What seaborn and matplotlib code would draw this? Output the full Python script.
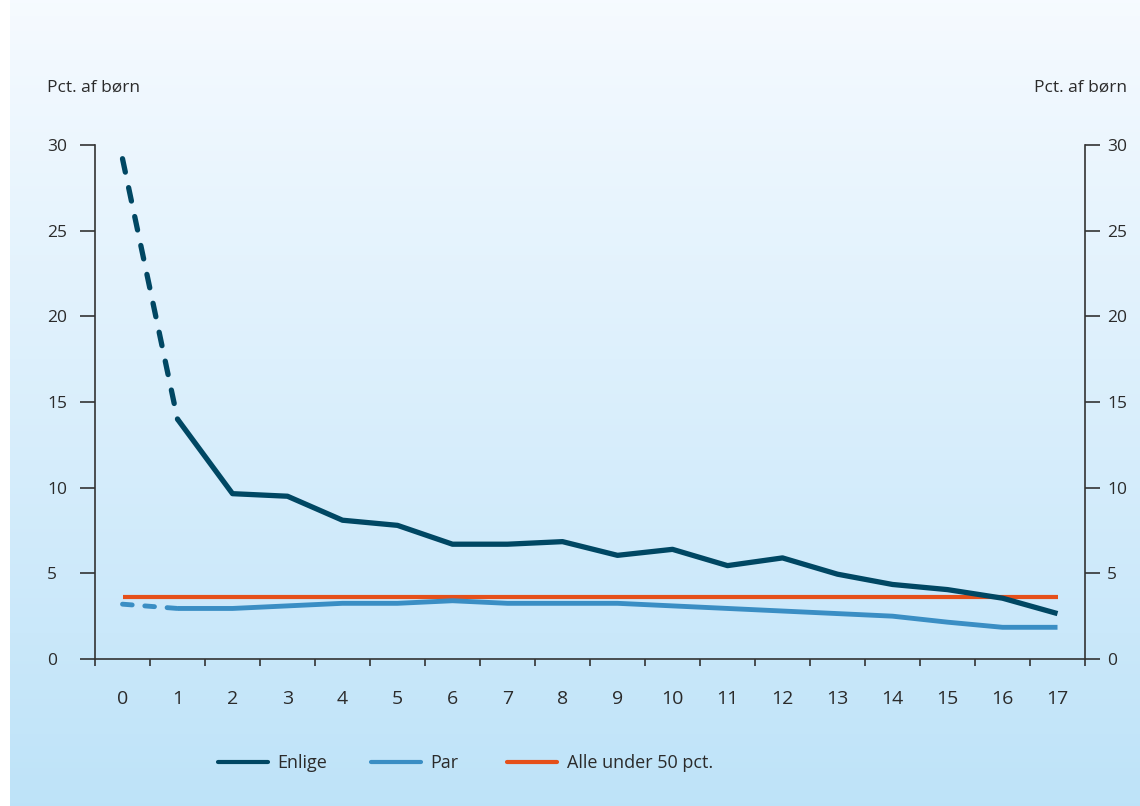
import numpy as np
import pandas as pd
import matplotlib
matplotlib.use("Agg")
import matplotlib.pyplot as plt
import matplotlib.transforms as mtrans
import seaborn as sns
from matplotlib.lines import Line2D

sns.set_theme(style="white")
plt.rcParams['font.family'] = ['Open Sans', 'DejaVu Sans']

# ---- data ----
ages = list(range(18))
age_labels = [str(a) for a in ages]
enlige = [29.2, 14.0, 9.65, 9.5, 8.1, 7.8, 6.7, 6.7, 6.85, 6.05, 6.4, 5.45, 5.9, 4.95, 4.35, 4.05, 3.55, 2.65]
par = [3.2, 2.95, 2.95, 3.1, 3.25, 3.25, 3.4, 3.25, 3.25, 3.25, 3.1, 2.95, 2.8, 2.65, 2.5, 2.15, 1.85, 1.85]
alle = [3.6] * 18
series_names = ["Enlige", "Par", "Alle under 50 pct."]
y_label = "Pct. af børn"
y_ticks = [0, 5, 10, 15, 20, 25, 30]

c_enlige = "#004763"
c_par = "#3a8ec4"
c_alle = "#e5501a"
text_c = "#2b2b2b"

W, H = 1140, 806
fig = plt.figure(figsize=(W / 100, H / 100), dpi=100, facecolor="white")

# background gradient panel
bg = fig.add_axes([10 / W, 0, 1 - 10 / W, 1], zorder=0)
top = np.array([0.965, 0.982, 1.0])
bot = np.array([0.745, 0.890, 0.975])
t = np.linspace(0, 1, 256)[:, None]
grad = top[None, :] * (1 - t) + bot[None, :] * t
bg.imshow(grad[:, None, :], aspect="auto", extent=[0, 1, 0, 1])
bg.set_axis_off()

ax = fig.add_axes([95 / W, 1 - 659 / H, (1085 - 95) / W, (659 - 145) / H], zorder=1)
ax.patch.set_alpha(0)

df = pd.DataFrame({"age": ages, "enlige": enlige, "par": par, "alle": alle})
first = df.iloc[:2]
rest = df.iloc[1:]

sns.lineplot(data=df, x="age", y="alle", ax=ax, color=c_alle, lw=3.0, zorder=3)
sns.lineplot(data=rest, x="age", y="par", ax=ax, color=c_par, lw=3.5, zorder=4)
sns.lineplot(data=first, x="age", y="par", ax=ax, color=c_par, lw=3.5, zorder=4)
ax.lines[-1].set_dashes((2.0, 2.6))
ax.lines[-1].set_dash_capstyle("round")
sns.lineplot(data=rest, x="age", y="enlige", ax=ax, color=c_enlige, lw=3.8, zorder=5)
sns.lineplot(data=first, x="age", y="enlige", ax=ax, color=c_enlige, lw=3.8, zorder=5)
ax.lines[-1].set_dashes((2.6, 3.0))
ax.lines[-1].set_dash_capstyle("round")
for ln in ax.lines:
    ln.set_solid_capstyle("butt")

ax.set_xlim(-0.5, 17.5)
ax.set_ylim(0, 30)
ax.set_xlabel("")
ax.set_ylabel("")

for s in ["left", "right", "bottom"]:
    ax.spines[s].set_visible(True)
    ax.spines[s].set_color("#333333")
    ax.spines[s].set_linewidth(1.2)
ax.spines["top"].set_visible(False)

# x: ticks at boundaries, labels at centres
ax.set_xticks(np.arange(-0.5, 18, 1.0))
ax.set_xticklabels([])
ax.set_xticks(ages, minor=True)
ax.set_xticklabels(age_labels, minor=True, fontsize=14, color=text_c)
ax.tick_params(axis="x", which="major", direction="out", length=5.2, width=1.2, color="#333333", bottom=True)
ax.tick_params(axis="x", which="minor", length=0, pad=22)

# y: both sides
ax.set_yticks(y_ticks)
ax.set_yticklabels([str(v) for v in y_ticks], fontsize=12.5, color=text_c)
ax.tick_params(axis="y", which="major", direction="out", length=10.5, width=1.2, color="#333333",
               left=True, right=True, labelleft=True, labelright=True, pad=5.5)
fig.canvas.draw()
for tk in ax.yaxis.get_major_ticks():
    tk.label1.set_horizontalalignment("left")
    tk.label1.set_transform(ax.get_yaxis_transform(which="tick1") +
                            mtrans.ScaledTranslation(-(95 - 47) / 100, 0, fig.dpi_scale_trans))

fig.text(47 / W, 1 - 88 / H, y_label, fontsize=12.5, color=text_c, ha="left", va="center")
fig.text(1127 / W, 1 - 88 / H, y_label, fontsize=12.5, color=text_c, ha="right", va="center")

for name, col, xpix in zip(series_names, (c_enlige, c_par, c_alle), (218, 371, 507)):
    h = Line2D([], [], color=col, lw=3)
    fig.legend([h], [name], loc="center left", bbox_to_anchor=(xpix / W, 1 - 763 / H),
               frameon=False, fontsize=13, handlelength=2.75, handletextpad=0.55,
               borderpad=0, borderaxespad=0, labelcolor=text_c)

fig.savefig("out.png", dpi=100, facecolor="white")
